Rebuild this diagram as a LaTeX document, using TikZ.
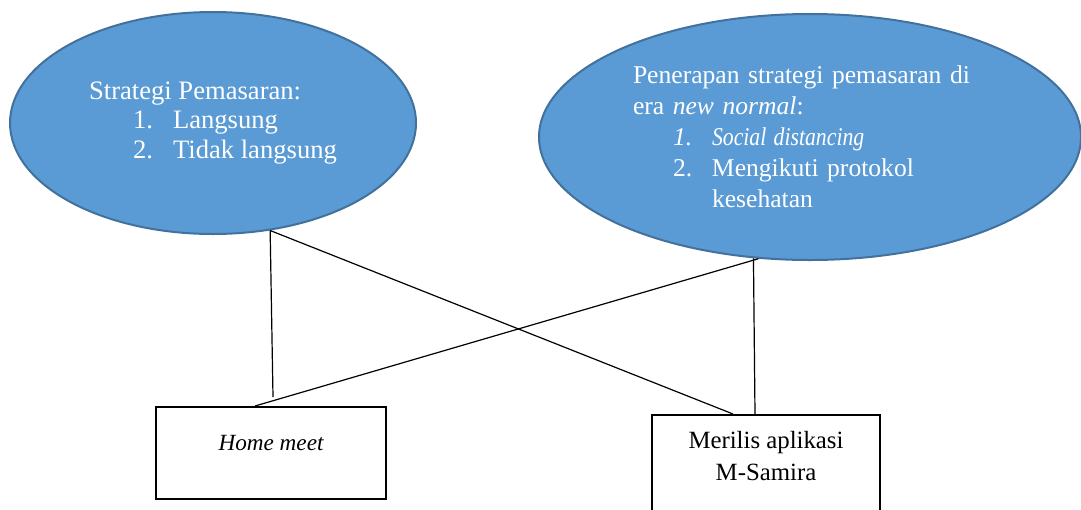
\documentclass[tikz,border=0pt]{standalone}
\usepackage{fontspec}
\setmainfont{Liberation Serif}
\usetikzlibrary{shapes.geometric,calc}
\definecolor{ovalfill}{HTML}{5B9BD5}
\definecolor{ovalline}{HTML}{41719C}
\begin{document}
\begin{tikzpicture}[x=0.5pt,y=-0.5pt,
		oval/.style={ellipse, draw=ovalline, line width=1pt, fill=ovalfill, text=white, inner sep=0pt},
		box/.style={rectangle, draw, line width=1pt, inner sep=0pt},
		link/.style={line width=0.6pt}]
		\useasboundingbox (0,0) rectangle (1081,509);
		
		\node[oval, minimum width=203pt, minimum height=111pt, align=left, font=\fontsize{13.3}{14.75}\selectfont] (strategi) at (213,123) {Strategi Pemasaran:\\
			\hspace*{22pt}\makebox[20pt][l]{1.}Langsung\\
			\hspace*{22pt}\makebox[20pt][l]{2.}Tidak langsung};
		\node[oval, minimum width=271pt, minimum height=123pt, text width=177pt, align=left, font=\fontsize{12.8}{15.5}\selectfont] (penerapan) at (810,137) {Penerapan strategi pemasaran di\\
			era \textit{new normal}:\\
			\hspace*{20pt}\makebox[19.5pt][l]{\textit{1.}}\scalebox{0.85}[1]{\textit{Social distancing}}\\
			\hspace*{20pt}\makebox[19.5pt][l]{2.}Mengikuti protokol\\
			\hspace*{39.5pt}kesehatan};
		
		\node[box, minimum width=115pt, minimum height=46pt, text height=8pt, text depth=11pt, font=\itshape\fontsize{11.6}{14}\selectfont] (home) at (271,453) {Home meet};
		\node[box, minimum width=114pt, minimum height=48pt, align=center, text height=17pt, text depth=0pt, font=\fontsize{12.4}{16}\selectfont] (aplikasi) at (766,463) {Merilis aplikasi\\M-Samira};
		
		\draw[link] (strategi.-62) -- ($(home.north)+(2,-9)$);
		\draw[link] (strategi.-62) -- ($(aplikasi.north)+(-33,0)$);
		\draw[link] (penerapan.-113) -- ($(home.north)+(-16,0)$);
		\draw[link] (penerapan.-115) -- ($(aplikasi.north)+(-11,0)$);
	\end{tikzpicture}
\end{document}
